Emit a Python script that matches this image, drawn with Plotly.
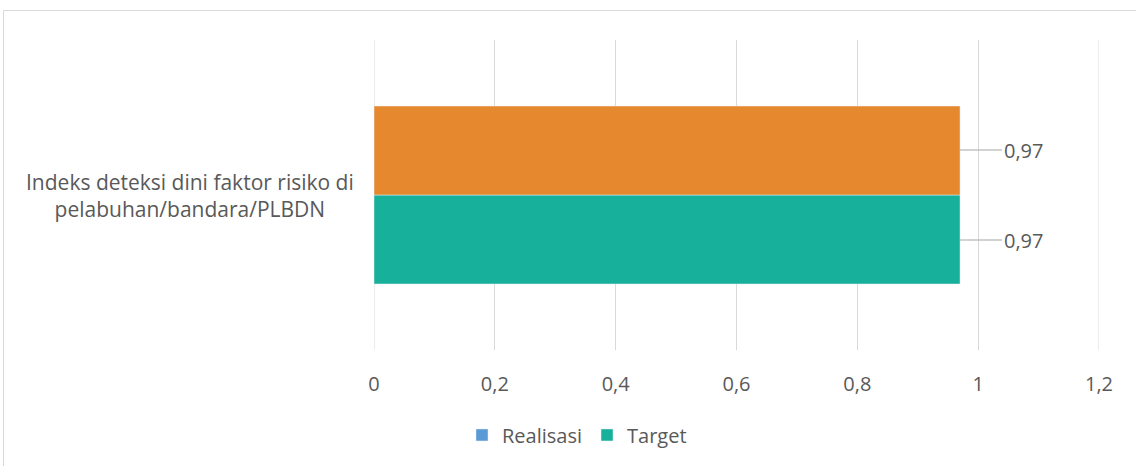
import plotly.graph_objects as go

categories = ["Indeks deteksi dini faktor risiko di<br>pelabuhan/bandara/PLBDN"]
series_names = ["Realisasi", "Target"]
realisasi = [0.97]
target = [0.97]
tick_vals = [0, 0.2, 0.4, 0.6, 0.8, 1.0, 1.2]
tick_text = ["0", "0,2", "0,4", "0,6", "0,8", "1", "1,2"]

ORANGE = "#E6892E"
TEAL = "#17B09A"
BLUE = "#5B9BD5"
TXT = "#595959"
GRID = "#D9D9D9"
FONT = "Open Sans"
BW = 0.287

fig = go.Figure()
fig.add_trace(go.Bar(y=categories, x=target, orientation="h", name=series_names[1],
                     marker_color=TEAL, showlegend=False, width=BW, offset=-BW))
fig.add_trace(go.Bar(y=categories, x=realisasi, orientation="h", name=series_names[0],
                     marker_color=ORANGE, showlegend=False, width=BW, offset=0))
# legend entries
fig.add_trace(go.Bar(y=[None], x=[None], orientation="h", name=series_names[0],
                     marker_color=BLUE, showlegend=True))
fig.add_trace(go.Bar(y=[None], x=[None], orientation="h", name=series_names[1],
                     marker_color=TEAL, showlegend=True))

def fmt(v):
    return f"{v:.2f}".replace(".", ",")

for val, shift in [(realisasi[0], 45), (target[0], -45)]:
    fig.add_annotation(x=val, y=categories[0], yshift=shift, text=fmt(val),
                       showarrow=True, arrowhead=0, arrowwidth=1.2, arrowcolor="#A6A6A6",
                       ax=63, ay=0, standoff=0,
                       font=dict(family=FONT, size=20, color=TXT))

fig.add_annotation(x=-0.254, y=0.5, xref="paper", yref="paper", text=categories[0],
                   showarrow=False, align="center", xanchor="center", yanchor="middle",
                   font=dict(family=FONT, size=21, color=TXT))

fig.add_shape(type="rect", xref="paper", yref="paper", x0=-0.511, x1=1.06, y0=-0.39, y1=1.095,
              line=dict(color=GRID, width=1), fillcolor="rgba(0,0,0,0)", layer="below")

# edge gridlines (plotly omits gridlines at the range ends)
for tv in (tick_vals[0], tick_vals[-1]):
    fig.add_shape(type="line", xref="x", yref="paper", x0=tv, x1=tv, y0=0, y1=1,
                  line=dict(color=GRID, width=1), layer="below")

fig.update_layout(
    width=1136, height=466,
    margin=dict(l=374, r=37, t=40, b=116),
    paper_bgcolor="white", plot_bgcolor="white",
    barmode="overlay",
    font=dict(family=FONT, size=20, color=TXT),
    legend=dict(orientation="h", x=0.28, xanchor="center", y=-0.274, yanchor="middle",
                font=dict(family=FONT, size=20, color=TXT), traceorder="normal",
                itemwidth=30),
    xaxis=dict(range=[0, 1.2], tickvals=tick_vals, ticktext=tick_text,
               showgrid=True, gridcolor=GRID, gridwidth=1,
               zeroline=False, showline=False, ticks="", ticklen=0,
               ticklabelstandoff=20,
               tickfont=dict(family=FONT, size=20, color=TXT)),
    yaxis=dict(showticklabels=False, showgrid=False, zeroline=False, showline=False,
               range=[-0.5, 0.5]),
)

fig.write_html("out.html", config={"displayModeBar": False},
               post_script="document.body.style.margin='0px';")
